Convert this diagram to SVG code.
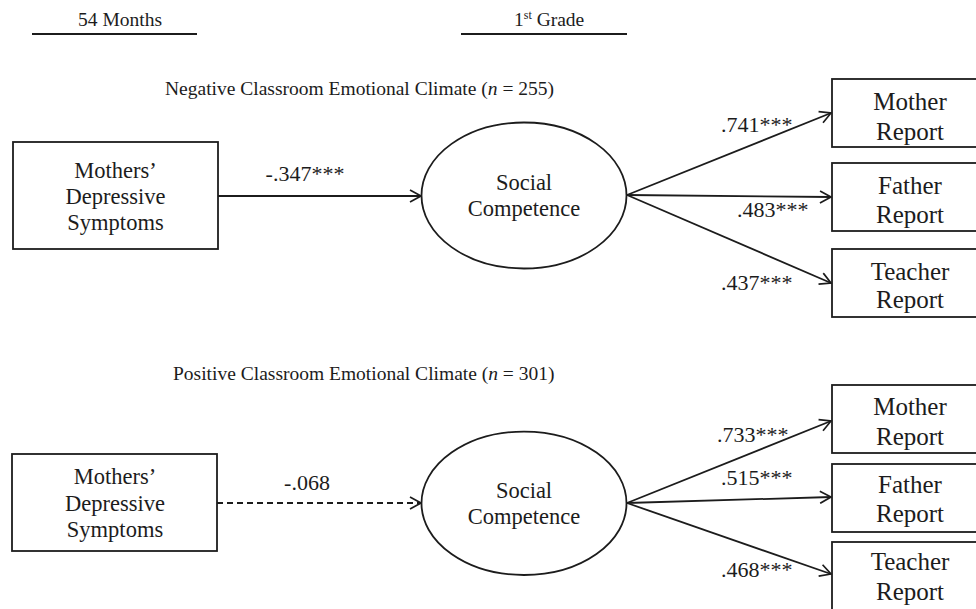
<svg xmlns="http://www.w3.org/2000/svg" width="976" height="609" viewBox="0 0 976 609">
<style>
  text { font-family: "Liberation Serif", "Times New Roman", serif; fill: #1c1c1c; }
  .hdr { font-size: 19.5px; }
  .node { font-size: 22.5px; text-anchor: middle; }
  .rep { font-size: 25px; text-anchor: middle; }
  .lbl { font-size: 22px; }
  .box { fill: #ffffff; stroke: #1c1c1c; stroke-width: 1.8; }
  .rule { stroke: #1c1c1c; stroke-width: 1.8; }
  .edge { fill: none; stroke: #1c1c1c; stroke-width: 1.8; marker-end: url(#arr); }
  .dash { stroke-dasharray: 6 4; }
</style>
<defs>
  <marker id="arr" viewBox="0 0 14 14" refX="12.5" refY="7" markerWidth="14" markerHeight="14" markerUnits="userSpaceOnUse" orient="auto">
    <path d="M1.5,1 L12.5,7 L1.5,13" fill="none" stroke="#1c1c1c" stroke-width="1.7" stroke-linejoin="miter"/>
  </marker>
</defs>
<rect width="976" height="609" fill="#ffffff"/>

<g id="header">
  <text class="hdr" x="78" y="26">54 Months</text>
  <line class="rule" x1="32" y1="34" x2="197" y2="34"/>
  <text class="hdr" x="514" y="26">1<tspan font-size="12" dy="-7">st</tspan><tspan dy="7"> Grade</tspan></text>
  <line class="rule" x1="461" y1="34" x2="627" y2="34"/>
  <text class="hdr" x="165" y="95">Negative Classroom Emotional Climate (<tspan font-style="italic">n</tspan> = 255)</text>
  <text class="hdr" x="173" y="380">Positive Classroom Emotional Climate (<tspan font-style="italic">n</tspan> = 301)</text>
</g>

<g id="connectors">
  <line class="edge" x1="218" y1="196" x2="421" y2="196"/>
  <line class="edge" x1="627" y1="195" x2="831" y2="113"/>
  <line class="edge" x1="627" y1="195" x2="831" y2="197"/>
  <line class="edge" x1="627" y1="195" x2="831" y2="283"/>
  <line class="edge dash" x1="217" y1="503" x2="421" y2="503"/>
  <line class="edge" x1="627" y1="503" x2="831" y2="421"/>
  <line class="edge" x1="627" y1="503" x2="831" y2="497"/>
  <line class="edge" x1="627" y1="503" x2="831" y2="574"/>
</g>

<g id="edge-labels">
  <text class="lbl" x="305" y="181" text-anchor="middle">-.347***</text>
  <text class="lbl" x="721" y="132">.741***</text>
  <text class="lbl" x="737" y="217">.483***</text>
  <text class="lbl" x="721" y="290">.437***</text>
  <text class="lbl" x="307" y="490" text-anchor="middle">-.068</text>
  <text class="lbl" x="717" y="442">.733***</text>
  <text class="lbl" x="721" y="485">.515***</text>
  <text class="lbl" x="721" y="577">.468***</text>
</g>

<g id="neg-mds">
  <rect class="box" x="13" y="142" width="205" height="107"/>
  <text class="node" x="115.5" y="178">Mothers’</text>
  <text class="node" x="115.5" y="204">Depressive</text>
  <text class="node" x="115.5" y="230">Symptoms</text>
</g>
<g id="neg-sc">
  <ellipse class="box" cx="524" cy="195.5" rx="102.5" ry="73"/>
  <text class="node" x="524" y="190">Social</text>
  <text class="node" x="524" y="216">Competence</text>
</g>
<g id="neg-mother">
  <rect class="box" x="832" y="79" width="160" height="68"/>
  <text class="rep" x="910" y="110">Mother</text>
  <text class="rep" x="910" y="140">Report</text>
</g>
<g id="neg-father">
  <rect class="box" x="832" y="163" width="160" height="68"/>
  <text class="rep" x="910" y="194">Father</text>
  <text class="rep" x="910" y="223">Report</text>
</g>
<g id="neg-teacher">
  <rect class="box" x="832" y="249" width="160" height="68"/>
  <text class="rep" x="910" y="280">Teacher</text>
  <text class="rep" x="910" y="308">Report</text>
</g>

<g id="pos-mds">
  <rect class="box" x="12" y="454" width="205" height="97"/>
  <text class="node" x="115" y="484">Mothers’</text>
  <text class="node" x="115" y="511">Depressive</text>
  <text class="node" x="115" y="537">Symptoms</text>
</g>
<g id="pos-sc">
  <ellipse class="box" cx="524" cy="503.3" rx="102.5" ry="71.7"/>
  <text class="node" x="524" y="498">Social</text>
  <text class="node" x="524" y="524">Competence</text>
</g>
<g id="pos-mother">
  <rect class="box" x="832" y="385" width="160" height="68"/>
  <text class="rep" x="910" y="415">Mother</text>
  <text class="rep" x="910" y="445">Report</text>
</g>
<g id="pos-father">
  <rect class="box" x="832" y="464" width="160" height="68"/>
  <text class="rep" x="910" y="493">Father</text>
  <text class="rep" x="910" y="522">Report</text>
</g>
<g id="pos-teacher">
  <rect class="box" x="832" y="542" width="160" height="80"/>
  <text class="rep" x="910" y="570">Teacher</text>
  <text class="rep" x="910" y="600">Report</text>
</g>
</svg>
